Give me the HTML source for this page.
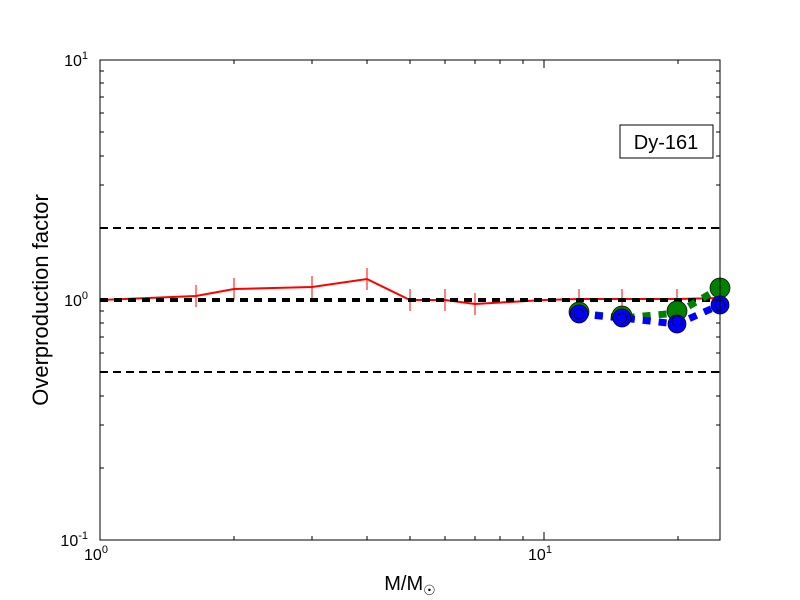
<!DOCTYPE html><html><head><style>body{margin:0;background:#fff}svg{display:block}text{font-family:"Liberation Sans",sans-serif}</style></head><body>
<svg width="800" height="600" xmlns="http://www.w3.org/2000/svg">
<rect width="800" height="600" fill="#fff"/>
<g stroke="#000" stroke-width="2" stroke-dasharray="8,5">
<line x1="100" y1="228" x2="720" y2="228"/><line x1="100" y1="372" x2="720" y2="372"/></g>
<polyline fill="none" stroke="red" stroke-width="2" points="100,300 196,296 234,289 312,287 367,279 410,300 445,300 475,304 544,300 579,299 622,299 677,299 720,298"/>
<g stroke="red" stroke-width="1">
<line x1="196" y1="285" x2="196" y2="307"/><line x1="234" y1="278" x2="234" y2="300"/><line x1="312" y1="276" x2="312" y2="298"/><line x1="367" y1="268" x2="367" y2="290"/><line x1="410" y1="289" x2="410" y2="311"/><line x1="445" y1="289" x2="445" y2="311"/><line x1="475" y1="293" x2="475" y2="315"/><line x1="579" y1="289" x2="579" y2="311"/><line x1="622" y1="289" x2="622" y2="311"/><line x1="677" y1="289" x2="677" y2="311"/></g>
<line x1="100" y1="300" x2="720" y2="300" stroke="#000" stroke-width="4" stroke-dasharray="8,6"/>
<polyline fill="none" stroke="green" stroke-width="7" stroke-dasharray="8,8" points="579,313 622,318 677,313 720,288"/>
<polyline fill="none" stroke="#0000ff" stroke-width="7" stroke-dasharray="8,8" points="579,314 622,318 677,324 720,305"/>
<g stroke="#000" stroke-width="0.7">
<circle cx="579" cy="312" r="10" fill="green"/><circle cx="622" cy="316" r="10" fill="green"/><circle cx="677" cy="311" r="10" fill="green"/><circle cx="720" cy="288" r="10" fill="green"/>
<circle cx="579" cy="314" r="9" fill="#0000ff"/><circle cx="622" cy="318" r="9" fill="#0000ff"/><circle cx="677" cy="324" r="9" fill="#0000ff"/><circle cx="720" cy="305" r="9" fill="#0000ff"/>
<circle cx="579" cy="314" r="5" fill="#0000ff"/><circle cx="622" cy="318" r="5" fill="#0000ff"/><circle cx="677" cy="321" r="5" fill="#0000ff"/><circle cx="720" cy="305" r="5" fill="#0000ff"/></g>
<rect x="100" y="60" width="620" height="480" fill="none" stroke="#000" stroke-width="1"/>
<g stroke="#000" stroke-width="1">
<path d="M544,540v-8M544,60v8M100,300h8M720,300h-8"/>
<path d="M234,540v-4M312,540v-4M367,540v-4M410,540v-4M445,540v-4M475,540v-4M500,540v-4M523,540v-4M678,540v-4M234,60v4M312,60v4M367,60v4M410,60v4M445,60v4M475,60v4M500,60v4M523,60v4M678,60v4"/>
<path d="M100,468h4M100,425h4M100,396h4M100,372h4M100,353h4M100,337h4M100,323h4M100,311h4M100,228h4M100,185h4M100,156h4M100,132h4M100,113h4M100,97h4M100,83h4M100,71h4"/>
<path d="M720,468h-4M720,425h-4M720,396h-4M720,372h-4M720,353h-4M720,337h-4M720,323h-4M720,311h-4M720,228h-4M720,185h-4M720,156h-4M720,132h-4M720,113h-4M720,97h-4M720,83h-4M720,71h-4"/></g>
<g font-size="16" text-anchor="middle"><text x="96" y="560">10<tspan dy="-7" font-size="11">0</tspan></text><text x="540" y="560">10<tspan dy="-7" font-size="11">1</tspan></text></g>
<g font-size="16" text-anchor="end"><text x="88" y="66">10<tspan dy="-7" font-size="11">1</tspan></text><text x="88" y="306">10<tspan dy="-7" font-size="11">0</tspan></text><text x="88" y="546">10<tspan dy="-7" font-size="11">-1</tspan></text></g>
<text x="410" y="590" font-size="20" text-anchor="middle">M/M<tspan font-size="14" dy="5">☉</tspan></text>
<text transform="translate(48,300) rotate(-90)" font-size="22" text-anchor="middle">Overproduction factor</text>
<rect x="620" y="125" width="93" height="33" fill="#fff" stroke="#000"/>
<text x="666" y="149" font-size="20" text-anchor="middle">Dy-161</text>
</svg></body></html>
